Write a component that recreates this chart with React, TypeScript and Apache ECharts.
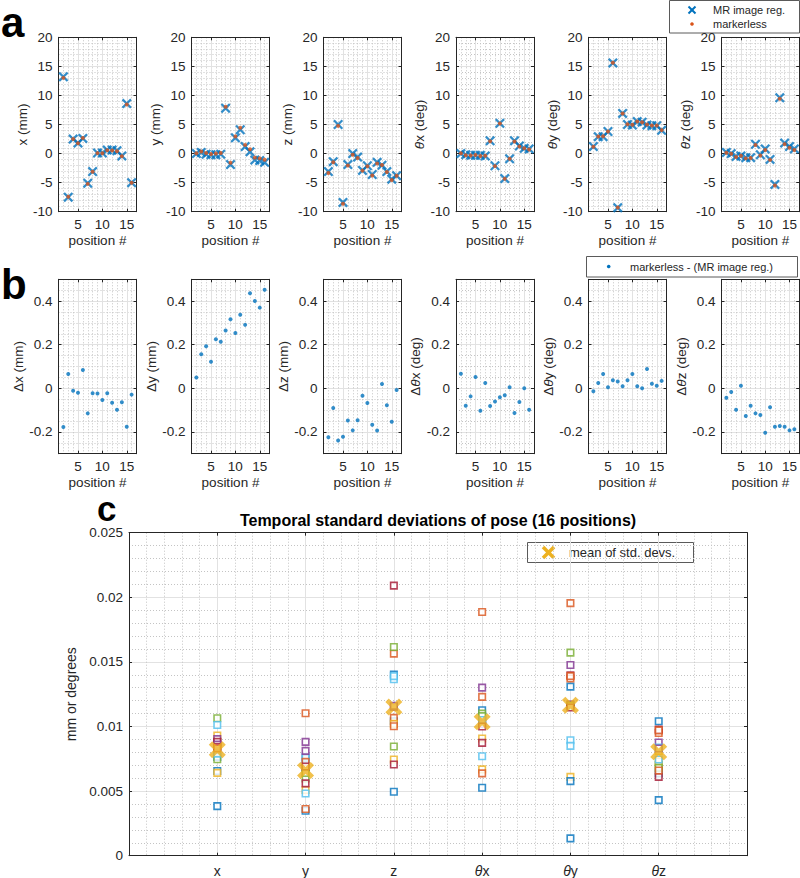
import { useEffect, useRef } from 'react';
import * as echarts from 'echarts';

// ---------- data ----------
const positions = [2, 3, 4, 5, 6, 7, 8, 9, 10, 11, 12, 13, 14, 15, 16];

// panel a: pose from MR image registration
const mrX = [13.2, -7.5, 2.5, 1.8, 2.6, -5.1, -3.1, 0.1, 0.1, 0.6, 0.6, 0.5, -0.4, 8.6, -5.0];
const mrY = [0, 0.2, -0.1, -0.2, -0.2, -0.1, 7.8, -1.9, 2.7, 4.1, 1.2, 0.3, -1.1, -1.2, -1.5];
const mrZ = [-3.1, -1.4, 5.0, -8.4, -1.9, 0, -0.6, -2.9, -2.1, -3.6, -1.5, -2.0, -3.1, -4.4, -3.8];
const mrTx = [0, -0.2, -0.3, -0.3, -0.3, -0.4, 2.2, -2.1, 5.2, -4.3, -0.9, 2.2, 1.3, 0.9, 0.8];
const mrTy = [1.2, 2.9, 2.9, 3.8, 15.6, -9.3, 6.9, 5.0, 4.9, 5.5, 5.4, 4.9, 4.8, 4.8, 4.0];
const mrTz = [0.2, 0, -0.5, -0.4, -0.7, -0.7, 1.6, -0.2, 0.8, -1.0, -5.3, 9.6, 1.8, 1.2, 0.8];

// panel b: markerless - (MR image reg.)
const dX = [-0.178, 0.066, -0.011, -0.02, 0.084, -0.115, -0.023, -0.024, -0.054, -0.023, -0.066, -0.098, -0.064, -0.176, -0.029];
const dY = [0.05, 0.156, 0.193, 0.122, 0.225, 0.214, 0.265, 0.317, 0.254, 0.337, 0.291, 0.436, 0.4, 0.37, 0.452];
const dZ = [-0.225, -0.09, -0.239, -0.222, -0.148, -0.193, -0.147, -0.034, -0.067, -0.167, -0.194, 0.02, -0.078, -0.153, -0.008];
const dTx = [0.067, -0.08, -0.037, 0.052, -0.103, 0.024, -0.081, -0.061, -0.041, -0.032, 0.005, -0.113, -0.063, 0, -0.098];
const dTy = [-0.014, 0.024, 0.066, 0.005, 0.037, 0.031, 0.009, 0.037, 0.066, 0.009, 0, 0.089, 0.021, 0.012, 0.034];
const dTz = [-0.043, -0.017, -0.098, 0.012, -0.127, -0.08, -0.115, -0.122, -0.204, -0.087, -0.176, -0.173, -0.176, -0.193, -0.188];

const poseNames = ['x (mm)', 'y (mm)', 'z (mm)', '{it|θ}x (deg)', '{it|θ}y (deg)', '{it|θ}z (deg)'];
const deltaNames = ['Δx (mm)', 'Δy (mm)', 'Δz (mm)', 'Δ{it|θ}x (deg)', 'Δ{it|θ}y (deg)', 'Δ{it|θ}z (deg)'];

// panel c: temporal std per position, columns [x, y, z, θx, θy, θz]
const categories = ['x', 'y', 'z', '{it|θ}x', '{it|θ}y', '{it|θ}z'];
const stdPos01 = [0.00765, 0.0075, 0.01402, 0.01126, 0.01309, 0.01041];
const stdPos02 = [0.0088, 0.01103, 0.01564, 0.01886, 0.01955, 0.0095];
const stdPos03 = [0.0093, 0.00508, 0.00745, 0.00907, 0.0061, 0.0081];
const stdPos04 = [0.00902, 0.00881, 0.01151, 0.01301, 0.01476, 0.00876];
const stdPos05 = [0.01064, 0.00598, 0.01615, 0.011, 0.01572, 0.00701];
const stdPos06 = [0.01012, 0.00765, 0.01366, 0.0077, 0.00894, 0.00838];
const stdPos07 = [0.00881, 0.0056, 0.0209, 0.00873, 0.01396, 0.00977];
const stdPos08 = [0.00655, 0.0068, 0.01041, 0.0104, 0.00577, 0.00637];
const stdPos09 = [0.0085, 0.00726, 0.01067, 0.01229, 0.01371, 0.0097];
const stdPos10 = [0.00641, 0.0066, 0.0102, 0.00668, 0.0117, 0.0073];
const stdPos11 = [0.0086, 0.00811, 0.0116, 0.0102, 0.0117, 0.0083];
const stdPos12 = [0.00747, 0.0064, 0.00845, 0.0108, 0.0116, 0.0068];
const stdPos13 = [0.0079, 0.00482, 0.0139, 0.0105, 0.0085, 0.00745];
const stdPos14 = [0.0084, 0.0069, 0.00706, 0.01, 0.01147, 0.0061];
const stdPos15 = [0.00384, 0.00348, 0.00495, 0.00526, 0.00134, 0.0043];
const stdPos16 = [0.0083, 0.00361, 0.01002, 0.00637, 0.0139, 0.0066];
const stdByPosition = [stdPos01, stdPos02, stdPos03, stdPos04, stdPos05, stdPos06, stdPos07, stdPos08,
  stdPos09, stdPos10, stdPos11, stdPos12, stdPos13, stdPos14, stdPos15, stdPos16];
const meanStd = [0.0082, 0.0066, 0.0115, 0.01036, 0.01165, 0.00804];

// ---------- style ----------
const FONT = '"Liberation Sans", Arial, Helvetica, sans-serif';
const FS = 13.5;
const AXC = '#262626';
const MAJ = '#e2e2e2';
const MINC = '#c4c4c4';
const BLUE = '#0072BD';
const ORANGE = '#D95319';
const YELLOW = '#EDB120';
const matlabColors = ['#0072BD', '#D95319', '#EDB120', '#7E2F8E', '#77AC30', '#4DBEEE', '#A2142F'];
const CROSS = 'path://M1.6,0 L5,3.4 L8.4,0 L10,1.6 L6.6,5 L10,8.4 L8.4,10 L5,6.6 L1.6,10 L0,8.4 L3.4,5 L0,1.6 Z';
const CROSS_BIG = 'path://M2,0 L5,3 L8,0 L10,2 L7,5 L10,8 L8,10 L5,7 L2,10 L0,8 L3,5 L0,2 Z';

const smallLefts = [58.5, 191.5, 323.5, 456, 588.5, 721.5];
const SMALL_W = 78;
const SMALL_H = 174.4;
const A_TOP = 37.3;
const B_TOP = 279.3;

const richIt = (size: number) => ({
  it: { fontStyle: 'italic', fontSize: size, fontFamily: FONT, color: AXC },
});

function buildOption() {
  const grids: any[] = [];
  const xAxes: any[] = [];
  const yAxes: any[] = [];
  const series: any[] = [];

  const lineStyle = { color: AXC, width: 1 };

  function addBox(box: any, xo: any, yo: any) {
    const gi = grids.length;
    grids.push({ left: box.left, top: box.top, width: box.width, height: box.height, show: false });
    const scaleKeys = ['min', 'max', 'interval', 'minInterval', 'maxInterval', 'splitNumber'];
    const pick = (o: any) => {
      const r: any = {};
      scaleKeys.forEach((k) => { if (o[k] !== undefined) r[k] = o[k]; });
      return r;
    };
    const xi = xAxes.length;
    xAxes.push({
      type: 'value', gridIndex: gi, position: 'bottom',
      axisLine: { show: true, onZero: false, lineStyle },
      axisTick: { show: true, inside: true, length: 3, lineStyle },
      splitLine: { show: true, lineStyle: { color: MAJ, width: 1 } },
      minorTick: { show: false, splitNumber: 5 },
      minorSplitLine: { show: true, lineStyle: { color: MINC, width: 1, type: [1, 2] } },
      ...xo,
    });
    xAxes.push({
      type: 'value', gridIndex: gi, position: 'top', ...pick(xo),
      axisLine: { show: true, onZero: false, lineStyle },
      axisTick: { show: true, inside: true, length: 3, lineStyle },
      axisLabel: { show: false }, splitLine: { show: false },
    });
    const yi = yAxes.length;
    yAxes.push({
      type: 'value', gridIndex: gi, position: 'left',
      axisLine: { show: true, onZero: false, lineStyle },
      axisTick: { show: true, inside: true, length: 3, lineStyle },
      splitLine: { show: true, lineStyle: { color: MAJ, width: 1 } },
      minorTick: { show: false, splitNumber: 5 },
      minorSplitLine: { show: true, lineStyle: { color: MINC, width: 1, type: [1, 2] } },
      ...yo,
    });
    yAxes.push({
      type: 'value', gridIndex: gi, position: 'right', ...pick(yo),
      axisLine: { show: true, onZero: false, lineStyle },
      axisTick: { show: true, inside: true, length: 3, lineStyle },
      axisLabel: { show: false }, splitLine: { show: false },
    });
    return { xi, yi };
  }

  const posX = () => ({
    min: 1, max: 17, splitNumber: 3, minInterval: 5, maxInterval: 5,
    axisLabel: {
      color: AXC, fontSize: FS, fontFamily: FONT, margin: 6,
      showMinLabel: false, showMaxLabel: false,
      formatter: (v: number) => (v % 5 === 0 ? String(v) : ''),
    },
    name: 'position #', nameLocation: 'middle', nameGap: 22,
    nameTextStyle: { color: AXC, fontSize: FS, fontFamily: FONT },
  });

  const mrSets = [mrX, mrY, mrZ, mrTx, mrTy, mrTz];
  const dSets = [dX, dY, dZ, dTx, dTy, dTz];

  // panel a
  mrSets.forEach((vals, k) => {
    const { xi, yi } = addBox(
      { left: smallLefts[k], top: A_TOP, width: SMALL_W, height: SMALL_H },
      posX(),
      {
        min: -10, max: 20, interval: 5,
        axisLabel: { color: AXC, fontSize: FS, fontFamily: FONT, margin: 6 },
        name: poseNames[k], nameLocation: 'middle', nameGap: 26,
        nameTextStyle: { color: AXC, fontSize: FS, fontFamily: FONT, rich: richIt(FS) },
      }
    );
    series.push({
      type: 'scatter', name: 'MR image reg.', xAxisIndex: xi, yAxisIndex: yi,
      symbol: CROSS, symbolSize: 10, itemStyle: { color: BLUE },
      data: positions.map((p, i) => [p, vals[i]]),
    });
    series.push({
      type: 'scatter', name: 'markerless', xAxisIndex: xi, yAxisIndex: yi,
      symbol: 'circle', symbolSize: 4, itemStyle: { color: ORANGE },
      data: positions.map((p, i) => [p, vals[i] + dSets[k][i]]),
    });
  });

  // panel b
  dSets.forEach((vals, k) => {
    const { xi, yi } = addBox(
      { left: smallLefts[k], top: B_TOP, width: SMALL_W, height: SMALL_H },
      posX(),
      {
        min: -0.3, max: 0.5, splitNumber: 4, minInterval: 0.2, maxInterval: 0.2,
        minorTick: { show: false, splitNumber: 4 },
        axisLabel: {
          color: AXC, fontSize: FS, fontFamily: FONT, margin: 6,
          showMinLabel: false, showMaxLabel: false,
        },
        name: deltaNames[k], nameLocation: 'middle', nameGap: 30,
        nameTextStyle: { color: AXC, fontSize: FS, fontFamily: FONT, rich: richIt(FS) },
      }
    );
    series.push({
      type: 'scatter', name: 'markerless - (MR image reg.)', xAxisIndex: xi, yAxisIndex: yi,
      symbol: 'circle', symbolSize: 4, itemStyle: { color: BLUE },
      data: positions.map((p, i) => [p, vals[i]]),
    });
  });

  // panel c
  const c = addBox(
    { left: 129, top: 532.7, width: 618, height: 323 },
    {
      min: 0, max: 7, interval: 1,
      axisLabel: {
        color: AXC, fontSize: 14, fontFamily: FONT, margin: 8,
        formatter: (v: number) => (v >= 1 && v <= 6 ? categories[v - 1] : ''),
        rich: richIt(14),
      },
    },
    {
      min: 0, max: 0.025, interval: 0.005,
      axisLabel: { color: AXC, fontSize: FS, fontFamily: FONT, margin: 6 },
      name: 'mm or degrees', nameLocation: 'middle', nameGap: 44,
      nameTextStyle: { color: AXC, fontSize: 14, fontFamily: FONT },
    }
  );
  stdByPosition.forEach((vals, p) => {
    series.push({
      type: 'scatter', name: 'position ' + (p + 1), xAxisIndex: c.xi, yAxisIndex: c.yi,
      symbol: 'rect', symbolSize: 6.5,
      itemStyle: { color: '#ffffff', borderColor: matlabColors[p % 7], borderWidth: 1.6 },
      data: vals.map((v, j) => [j + 1, v]),
    });
  });
  series.push({
    type: 'scatter', name: 'mean of std. devs.', xAxisIndex: c.xi, yAxisIndex: c.yi,
    symbol: CROSS_BIG, symbolSize: 17, itemStyle: { color: YELLOW },
    data: meanStd.map((v, j) => [j + 1, v]),
  });

  const crossLines = (cx: number, cy: number, r: number, color: string, w: number) => [
    { type: 'line', shape: { x1: cx - r, y1: cy - r, x2: cx + r, y2: cy + r }, style: { stroke: color, lineWidth: w } },
    { type: 'line', shape: { x1: cx - r, y1: cy + r, x2: cx + r, y2: cy - r }, style: { stroke: color, lineWidth: w } },
  ];
  const txt = (x: number, y: number, text: string, size: number, extra: any = {}) => ({
    type: 'text', x, y,
    style: { text, fill: AXC, fontSize: size, fontFamily: FONT, textVerticalAlign: 'middle', ...extra },
  });

  const graphic: any[] = [
    // panel letters
    txt(1, 22, 'a', 42, { fontWeight: 'bold', fill: '#000' }),
    txt(1, 284, 'b', 42, { fontWeight: 'bold', fill: '#000' }),
    txt(97, 508, 'c', 35, { fontWeight: 'bold', fill: '#000' }),
    // title c
    txt(438, 520, 'Temporal standard deviations of pose (16 positions)', 16, { fontWeight: 'bold', textAlign: 'center', fill: '#000' }),
    // legend a
    { type: 'rect', shape: { x: 669.5, y: 0.5, width: 130, height: 32.5 }, style: { fill: '#fff', stroke: '#5a5a5a', lineWidth: 1 } },
    ...crossLines(692, 10, 3.5, BLUE, 2),
    txt(713, 10, 'MR image reg.', 11),
    { type: 'circle', shape: { cx: 692, cy: 24, r: 1.8 }, style: { fill: ORANGE } },
    txt(713, 24, 'markerless', 11),
    // legend b
    { type: 'rect', shape: { x: 586.5, y: 256.5, width: 211, height: 20.5 }, style: { fill: '#fff', stroke: '#5a5a5a', lineWidth: 1 } },
    { type: 'circle', shape: { cx: 608.7, cy: 266.5, r: 1.8 }, style: { fill: BLUE } },
    txt(630, 266.5, 'markerless - (MR image reg.)', 11),
    // legend c
    { type: 'rect', shape: { x: 527.5, y: 542.5, width: 166, height: 20 }, style: { fill: '#fff', stroke: '#5a5a5a', lineWidth: 1 } },
    ...crossLines(548.5, 552.5, 5.5, YELLOW, 3.5),
    txt(569, 552.5, 'mean of std. devs.', 13),
  ];

  return {
    animation: false,
    backgroundColor: '#ffffff',
    textStyle: { fontFamily: FONT },
    grid: grids,
    xAxis: xAxes,
    yAxis: yAxes,
    series,
    graphic,
  };
}

export default function App() {
  const ref = useRef<HTMLDivElement>(null);
  useEffect(() => {
    if (!ref.current) return;
    const chart = echarts.init(ref.current, null, { renderer: 'svg' });
    chart.setOption(buildOption() as any);
    return () => chart.dispose();
  }, []);
  return (
    <div
      ref={ref}
      style={{ position: 'absolute', left: 0, top: 0, width: 800, height: 878, background: '#fff' }}
    />
  );
}
